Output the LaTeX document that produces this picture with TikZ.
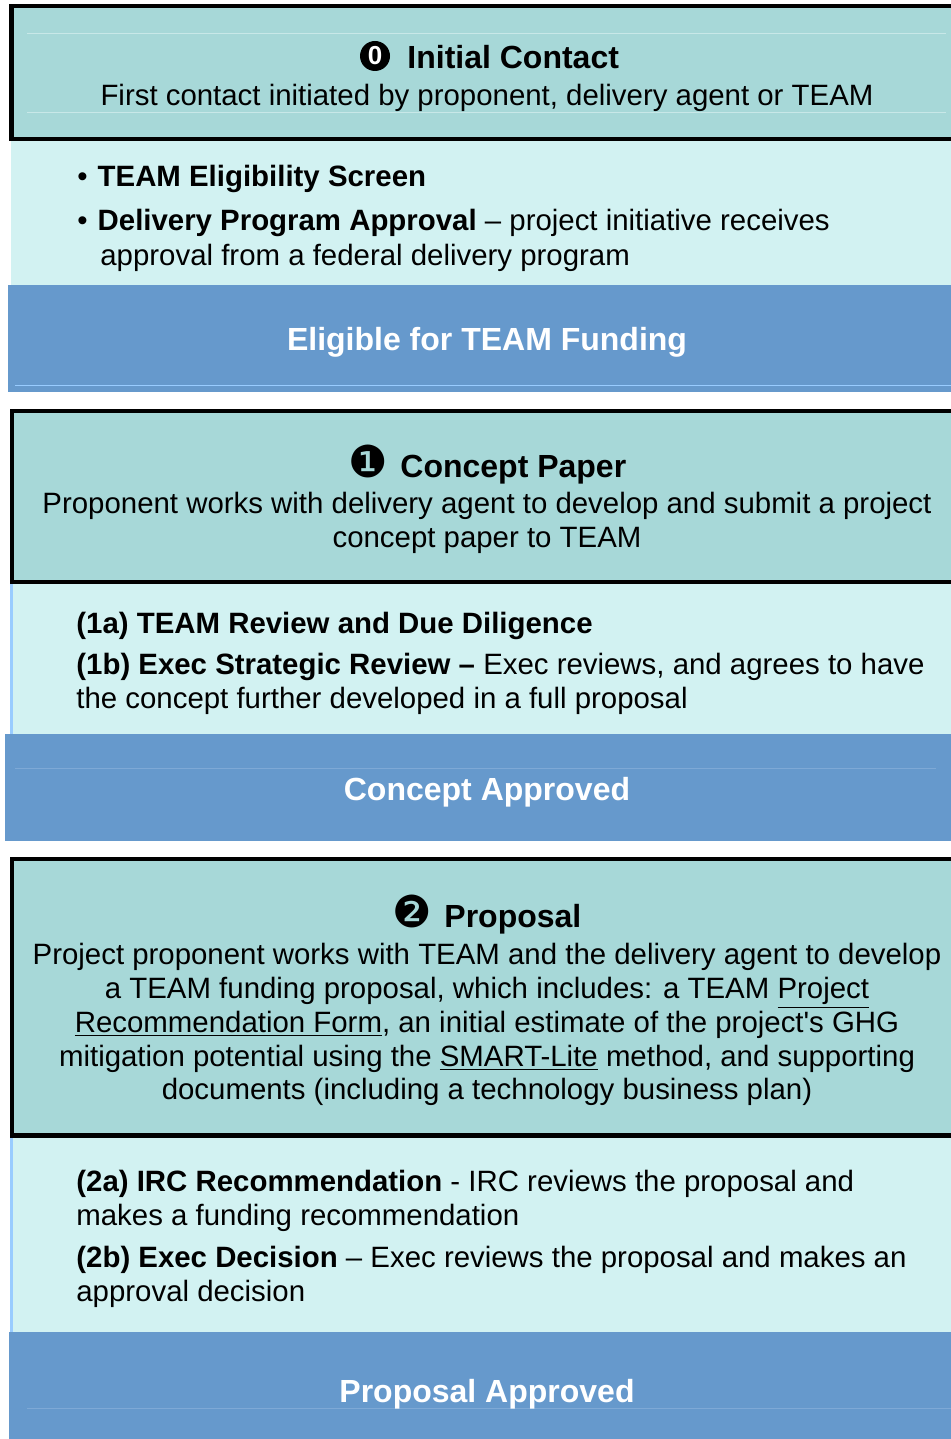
\documentclass[tikz,border=0pt]{standalone}
\usepackage{fontspec}
\setmainfont{Liberation Sans}
\newfontfamily\straightfont{Liberation Sans}
\newfontfamily\dingfont{DejaVu Sans}

\definecolor{headfill}{HTML}{A7D8D8}
\definecolor{panelfill}{HTML}{D2F2F2}
\definecolor{bannerfill}{HTML}{6699CC}
\definecolor{edgeblue}{HTML}{99CCFF}
\definecolor{faintline}{HTML}{C8E8E8}
\definecolor{bannerline}{HTML}{7EA9D6}

\tikzset{
  frame/.style={line width=2.25pt},
  body/.style={anchor=base, inner sep=0pt, font=\fontsize{14.7}{17}\selectfont},
  bodyleft/.style={body, anchor=base west},
  title/.style={anchor=base west, inner sep=0pt, font=\fontsize{16}{19}\selectfont\bfseries},
  banner/.style={title, anchor=base, text=white},
  numdot/.style={circle, fill=black, inner sep=0pt, minimum size=15pt, text=white,
    font=\fontsize{13}{13}\selectfont\bfseries},
  numglyph/.style={inner sep=0pt, font=\dingfont\fontsize{22}{22}\selectfont},
}

\begin{document}
\begin{tikzpicture}[x=0.5pt,y=-0.5pt]
\useasboundingbox (0,0) rectangle (951,1439);

% step 0
\fill[headfill] (11,6) rectangle (951,139);
\draw[faintline] (27,33) -- (946,33);
\draw[faintline] (27,112) -- (946,112);
\draw[frame] (951,6) -- (11.5,6) -- (11.5,139) -- (951,139);
\node[numdot] (n0) at (375,56) {0};
\node[title] (t0) at (407,69) {Initial Contact};
\node[body] (s0) at (487,106) {First contact initiated by proponent, delivery agent or TEAM};

\fill[panelfill] (11,141) rectangle (951,285);
\node[bodyleft] (b0a) at (77,187) {•\hspace{5pt}\textbf{TEAM Eligibility Screen}};
\node[bodyleft] (b0b) at (77,231) {•\hspace{5pt}\textbf{Delivery Program Approval} -- project initiative receives};
\node[bodyleft] (b0c) at (100,265) {approval from a federal delivery program};

\fill[bannerfill] (8,285) rectangle (951,392);
\draw[edgeblue] (15,385) -- (951,385);
\node[banner] (e0) at (487,350) {Eligible for TEAM Funding};

% step 1
\fill[headfill] (12,411) rectangle (951,582);
\draw[frame] (951,411) -- (12,411) -- (12,582) -- (951,582);
\node[numglyph] (n1) at (368,461) {❶};
\node[title] (t1) at (400,477) {Concept Paper};
\node[body] (s1a) at (487,513) {Proponent works with delivery agent to develop and submit a project};
\node[body] (s1b) at (487,547) {concept paper to TEAM};

\fill[panelfill] (10,584) rectangle (951,734);
\fill[edgeblue] (10,584) rectangle (13,734);
\node[bodyleft] (r1a) at (76,633) {\textbf{(1a) TEAM Review and Due Diligence}};
\node[bodyleft] (r1b) at (76,674) {\textbf{(1b) Exec Strategic Review --} Exec reviews, and agrees to have};
\node[bodyleft] (r1c) at (76,708) {the concept further developed in a full proposal};

\fill[bannerfill] (5,734) rectangle (951,841);
\draw[bannerline] (15,768) -- (936,768);
\node[banner] (e1) at (487,800) {Concept Approved};

% step 2
\fill[headfill] (12,859) rectangle (951,1135.5);
\draw[frame] (951,859) -- (12,859) -- (12,1135.5) -- (951,1135.5);
\node[numglyph] (n2) at (412,911) {❷};
\node[title] (t2) at (444,927) {Proposal};
\node[body] (s2a) at (487,964) {Project proponent works with TEAM and the delivery agent to develop};
\node[body] (s2b) at (487,998) {a TEAM funding proposal, which includes: a TEAM \underline{Project}};
\node[body] (s2c) at (487,1032) {\underline{Recommendation Form}, an initial estimate of the project{\straightfont'}s GHG};
\node[body] (s2d) at (487,1066) {mitigation potential using the \underline{SMART-Lite} method, and supporting};
\node[body] (s2e) at (487,1099) {documents (including a technology business plan)};

\fill[panelfill] (10,1138) rectangle (951,1332);
\fill[edgeblue] (10,1138) rectangle (13,1332);
\node[bodyleft] (r2a) at (76,1191) {\textbf{(2a) IRC Recommendation} - IRC reviews the proposal and};
\node[bodyleft] (r2b) at (76,1225) {makes a funding recommendation};
\node[bodyleft] (r2c) at (76,1267) {\textbf{(2b) Exec Decision} -- Exec reviews the proposal and makes an};
\node[bodyleft] (r2d) at (76,1301) {approval decision};

\fill[bannerfill] (9,1332) rectangle (951,1439);
\draw[bannerline] (27,1408) -- (951,1408);
\node[banner] (e2) at (487,1402) {Proposal Approved};
\end{tikzpicture}
\end{document}
